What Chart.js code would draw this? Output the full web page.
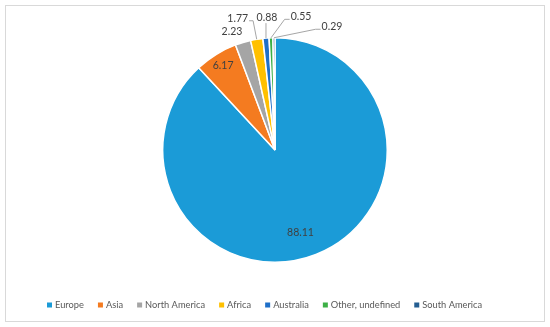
<!DOCTYPE html>
<html>
<head>
<meta charset="utf-8">
<script src="https://cdn.jsdelivr.net/npm/chart.js@4.4.1/dist/chart.umd.min.js"></script>
<style>
  html, body { margin: 0; padding: 0; background: #ffffff; }
  #wrap { position: relative; width: 550px; height: 327px; }
  canvas { display: block; }
</style>
</head>
<body>
<div id="wrap"><canvas id="c" width="550" height="327"></canvas></div>
<script>
// ---- data ----
const categories = ["Europe", "Asia", "North America", "Africa", "Australia", "Other, undefined", "South America"];
const shares = [88.11, 6.17, 2.23, 1.77, 0.88, 0.55, 0.29];
const valueLabels = ["88.11", "6.17", "2.23", "1.77", "0.88", "0.55", "0.29"];

// ---- styles ----
const sliceColors = ["#1B9BD7", "#F47B20", "#A5A5A5", "#FFC000", "#1F6FC8", "#3DB046", "#255E91"];
// label placement relative to the slice's mid-angle point (r = fraction of radius)
const labelPlacement = [
  { r: 0.77, dx: -6, dy: 2, line: false },
  { r: 0.88, dx: 0, dy: 0, line: false },
  { r: 1.0, dx: -11, dy: -11, line: false },
  { r: 1.0, dx: -19, dy: -21, line: true },
  { r: 1.0, dx: 1, dy: -21, line: true },
  { r: 1.0, dx: 30, dy: -21, line: true },
  { r: 1.0, dx: 58, dy: -11, line: true }
];
const FONT = "Lato, 'Liberation Sans', sans-serif";

const framePlugin = {
  id: 'frame',
  beforeDraw(chart) {
    const ctx = chart.ctx;
    ctx.save();
    ctx.fillStyle = '#ffffff';
    ctx.fillRect(0, 0, chart.width, chart.height);
    ctx.strokeStyle = '#D9D9D9';
    ctx.lineWidth = 1;
    ctx.strokeRect(5.5, 5.5, 539, 316);
    ctx.restore();
  }
};

const labelPlugin = {
  id: 'sliceLabels',
  afterDatasetsDraw(chart) {
    const ctx = chart.ctx;
    const meta = chart.getDatasetMeta(0);
    ctx.save();
    ctx.font = "10.5px " + FONT;
    ctx.textAlign = 'center';
    ctx.textBaseline = 'middle';
    meta.data.forEach((arc, i) => {
      const p = labelPlacement[i];
      const mid = (arc.startAngle + arc.endAngle) / 2;
      const R = arc.outerRadius;
      const ax = arc.x + Math.cos(mid) * R * p.r;
      const ay = arc.y + Math.sin(mid) * R * p.r;
      const lx = ax + p.dx, ly = ay + p.dy;
      const text = valueLabels[i];
      const w = ctx.measureText(text).width;
      if (p.line) {
        const left = lx - w / 2 - 1, right = lx + w / 2 + 1;
        const hy = ly + 2.5;
        let pts;
        if (ax < left) {
          pts = [[left, hy], [left - 5, hy], [ax, ay]];
        } else if (ax > right) {
          pts = [[right, hy], [right + 4, hy], [ax, ay]];
        } else {
          pts = [[ax, ly + 6], [ax, ay]];
        }
        ctx.strokeStyle = '#A6A6A6';
        ctx.lineWidth = 1;
        ctx.beginPath();
        ctx.moveTo(pts[0][0], pts[0][1]);
        for (let k = 1; k < pts.length; k++) ctx.lineTo(pts[k][0], pts[k][1]);
        ctx.stroke();
      }
      ctx.fillStyle = '#404040';
      ctx.fillText(text, lx, ly);
    });
    ctx.restore();
  }
};

const legendPlugin = {
  id: 'customLegend',
  afterDraw(chart) {
    const ctx = chart.ctx;
    const labels = chart.data.labels;
    const colors = chart.data.datasets[0].backgroundColor;
    ctx.save();
    ctx.font = "9.3px " + FONT;
    ctx.textBaseline = 'middle';
    const box = 5, gapText = 3, gapItem = 14;
    const widths = labels.map(l => box + gapText + ctx.measureText(l).width);
    const total = widths.reduce((a, b) => a + b, 0) + gapItem * (labels.length - 1);
    let x = Math.round(265 - total / 2);
    const y = 304.5;
    labels.forEach((l, i) => {
      ctx.fillStyle = colors[i];
      ctx.fillRect(x, 302.5, box, box);
      ctx.fillStyle = '#595959';
      ctx.fillText(l, x + box + gapText, y);
      x += widths[i] + gapItem;
    });
    ctx.restore();
  }
};

new Chart(document.getElementById('c'), {
  type: 'pie',
  data: {
    labels: categories,
    datasets: [{
      data: shares,
      backgroundColor: sliceColors,
      borderColor: '#ffffff',
      borderWidth: 1.5
    }]
  },
  options: {
    responsive: false,
    animation: false,
    layout: { padding: { top: 37, bottom: 64, left: 20, right: 20 } },
    plugins: {
      legend: { display: false },
      tooltip: { enabled: false }
    }
  },
  plugins: [framePlugin, labelPlugin, legendPlugin]
});
</script>
</body>
</html>
